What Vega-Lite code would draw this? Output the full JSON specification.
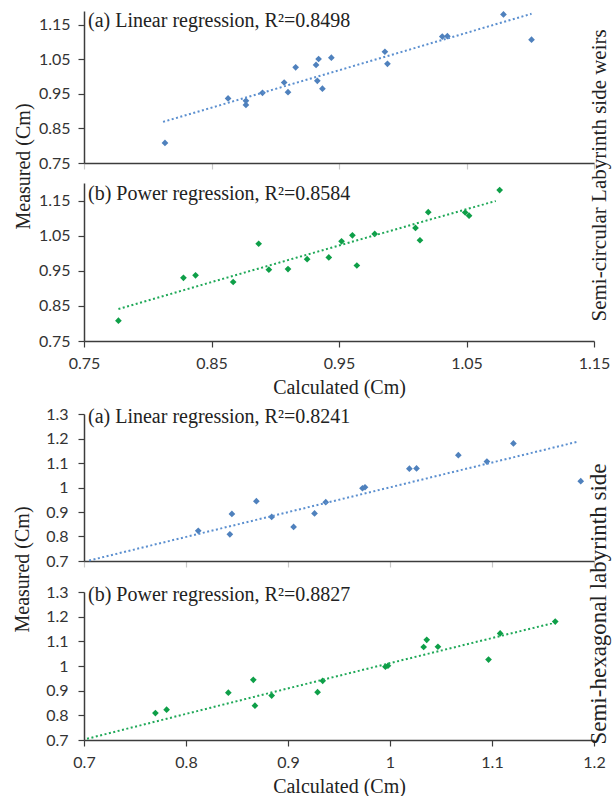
{
  "$schema": "https://vega.github.io/schema/vega-lite/v6.json",
  "padding": {"left": 12, "top": 9, "right": 0, "bottom": 0},
  "background": "white",
  "config": {
    "view": {"stroke": null},
    "axis": {"domainColor": "#3c3c3c", "domainWidth": 1.5, "tickColor": "#3c3c3c", "tickWidth": 1.2, "tickSize": 6, "tickCount": 12, "labelFont": "Lato", "labelFontSize": 16, "labelColor": "#333", "labelPadding": 10, "labelOverlap": false, "labelFlush": false, "titleFont": "Liberation Serif", "titleFontSize": 20, "titleFontWeight": "normal", "titleColor": "#222", "titlePadding": 5, "grid": false},
    "axisX": {"labelPadding": 8, "titlePadding": 6},
    "title": {"font": "Liberation Serif", "fontSize": 20, "fontWeight": "normal", "color": "#222"}
  },
  "datasets": {
    "circular": [
      {"Measured": 0.808, "Linear": 0.8135, "Power": 0.777},
      {"Measured": 0.918, "Linear": 0.877, "Power": 0.867},
      {"Measured": 0.930, "Linear": 0.877, "Power": 0.828},
      {"Measured": 0.937, "Linear": 0.863, "Power": 0.8375},
      {"Measured": 0.953, "Linear": 0.890, "Power": 0.895},
      {"Measured": 0.955, "Linear": 0.910, "Power": 0.910},
      {"Measured": 0.965, "Linear": 0.937, "Power": 0.964},
      {"Measured": 0.983, "Linear": 0.907, "Power": 0.925},
      {"Measured": 0.988, "Linear": 0.933, "Power": 0.942},
      {"Measured": 1.027, "Linear": 0.916, "Power": 0.887},
      {"Measured": 1.034, "Linear": 0.932, "Power": 0.952},
      {"Measured": 1.037, "Linear": 0.988, "Power": 1.0135},
      {"Measured": 1.051, "Linear": 0.934, "Power": 0.9605},
      {"Measured": 1.055, "Linear": 0.944, "Power": 0.978},
      {"Measured": 1.072, "Linear": 0.986, "Power": 1.010},
      {"Measured": 1.107, "Linear": 1.101, "Power": 1.052},
      {"Measured": 1.116, "Linear": 1.031, "Power": 1.049},
      {"Measured": 1.117, "Linear": 1.035, "Power": 1.020},
      {"Measured": 1.180, "Linear": 1.079, "Power": 1.076}
    ],
    "circularTrend": [
      {"Fit": "Linear", "Calculated": 0.812, "Measured": 0.869},
      {"Fit": "Linear", "Calculated": 1.101, "Measured": 1.182},
      {"Fit": "Power", "Calculated": 0.777, "Measured": 0.841},
      {"Fit": "Power", "Calculated": 0.925, "Measured": 0.996},
      {"Fit": "Power", "Calculated": 1.073, "Measured": 1.149}
    ],
    "hexagonal": [
      {"Measured": 0.809, "Linear": 0.843, "Power": 0.770},
      {"Measured": 0.823, "Linear": 0.812, "Power": 0.781},
      {"Measured": 0.839, "Linear": 0.9055, "Power": 0.8676},
      {"Measured": 0.880, "Linear": 0.884, "Power": 0.884},
      {"Measured": 0.892, "Linear": 0.845, "Power": 0.8415},
      {"Measured": 0.894, "Linear": 0.926, "Power": 0.929},
      {"Measured": 0.940, "Linear": 0.937, "Power": 0.934},
      {"Measured": 0.944, "Linear": 0.869, "Power": 0.866},
      {"Measured": 0.997, "Linear": 0.973, "Power": 0.9955},
      {"Measured": 1.001, "Linear": 0.9755, "Power": 0.998},
      {"Measured": 1.026, "Linear": 1.187, "Power": 1.0966},
      {"Measured": 1.077, "Linear": 1.019, "Power": 1.033},
      {"Measured": 1.078, "Linear": 1.026, "Power": 1.047},
      {"Measured": 1.106, "Linear": 1.095, "Power": 1.036},
      {"Measured": 1.132, "Linear": 1.067, "Power": 1.108},
      {"Measured": 1.180, "Linear": 1.121, "Power": 1.162}
    ],
    "hexagonalTrend": [
      {"Fit": "Linear", "Calculated": 0.705, "Measured": 0.702},
      {"Fit": "Linear", "Calculated": 1.185, "Measured": 1.188},
      {"Fit": "Power", "Calculated": 0.703, "Measured": 0.705},
      {"Fit": "Power", "Calculated": 0.93, "Measured": 0.94},
      {"Fit": "Power", "Calculated": 1.161, "Measured": 1.175}
    ]
  },
  "spacing": 9,
  "align": "none",
  "vconcat": [
    {
      "title": {"text": "Semi-circular Labyrinth side weirs", "orient": "right", "anchor": "middle", "angle": -90, "baseline": "middle", "offset": -31, "dx": 28, "fontSize": 21},
      "bounds": "flush",
      "spacing": 20,
      "vconcat": [
        {
          "width": 510, "height": 152,
          "title": {"text": "(a) Linear regression, R²=0.8498", "anchor": "start", "frame": "group", "offset": -21, "dx": 4},
          "layer": [
            {
              "data": {"name": "circular"},
              "mark": {"type": "point", "shape": "diamond", "filled": true, "color": "#4F81BD", "size": 45, "opacity": 1},
              "encoding": {
                "x": {"field": "Linear", "type": "quantitative", "scale": {"domain": [0.75, 1.15], "nice": false, "zero": false}, "axis": {"values": [0.75, 0.85, 0.95, 1.05, 1.15], "labels": false, "tickColor": "#c8c8c8", "title": null}},
                "y": {"field": "Measured", "type": "quantitative", "scale": {"domain": [0.75, 1.19], "nice": false, "zero": false}, "axis": {"values": [0.75, 0.85, 0.95, 1.05, 1.15], "tickCount": 12, "labelOverlap": false, "labelPadding": 8, "format": ".2f", "title": "Measured (Cm)", "titleY": 155, "titlePadding": 5}}
              }
            },
            {
              "data": {"name": "circularTrend"},
              "transform": [{"filter": "datum.Fit === 'Linear'"}],
              "mark": {"type": "line", "color": "#5b8fcf", "strokeWidth": 2, "strokeDash": [2, 2.5]},
              "encoding": {
                "x": {"field": "Calculated", "type": "quantitative"},
                "y": {"field": "Measured", "type": "quantitative"}
              }
            }
          ]
        },
        {
          "width": 510, "height": 158,
          "title": {"text": "(b) Power regression, R²=0.8584", "anchor": "start", "frame": "group", "offset": -21, "dx": 4},
          "layer": [
            {
              "data": {"name": "circular"},
              "mark": {"type": "point", "shape": "diamond", "filled": true, "color": "#0E9F48", "size": 45, "opacity": 1},
              "encoding": {
                "x": {"field": "Power", "type": "quantitative", "scale": {"domain": [0.75, 1.15], "nice": false, "zero": false}, "axis": {"values": [0.75, 0.85, 0.95, 1.05, 1.15], "format": ".2f", "title": "Calculated (Cm)"}},
                "y": {"field": "Measured", "type": "quantitative", "scale": {"domain": [0.75, 1.2], "nice": false, "zero": false}, "axis": {"values": [0.75, 0.85, 0.95, 1.05, 1.15], "tickCount": 12, "labelOverlap": false, "labelPadding": 8, "format": ".2f", "title": null}}
              }
            },
            {
              "data": {"name": "circularTrend"},
              "transform": [{"filter": "datum.Fit === 'Power'"}],
              "mark": {"type": "line", "color": "#1fa858", "strokeWidth": 2, "strokeDash": [2, 2.5], "interpolate": "monotone"},
              "encoding": {
                "x": {"field": "Calculated", "type": "quantitative"},
                "y": {"field": "Measured", "type": "quantitative"}
              }
            }
          ]
        }
      ]
    },
    {
      "title": {"text": "Semi-hexagonal labyrinth side", "orient": "right", "anchor": "middle", "angle": -90, "baseline": "middle", "offset": -29, "dx": -3, "fontSize": 23},
      "bounds": "flush",
      "spacing": 31,
      "vconcat": [
        {
          "width": 510, "height": 147,
          "title": {"text": "(a) Linear regression, R²=0.8241", "anchor": "start", "frame": "group", "offset": -21, "dx": 4},
          "layer": [
            {
              "data": {"name": "hexagonal"},
              "mark": {"type": "point", "shape": "diamond", "filled": true, "color": "#4F81BD", "size": 45, "opacity": 1},
              "encoding": {
                "x": {"field": "Linear", "type": "quantitative", "scale": {"domain": [0.7, 1.2], "nice": false, "zero": false}, "axis": {"values": [0.7, 0.8, 0.9, 1, 1.1, 1.2], "labels": false, "tickColor": "#c8c8c8", "title": null}},
                "y": {"field": "Measured", "type": "quantitative", "scale": {"domain": [0.7, 1.3], "nice": false, "zero": false}, "axis": {"values": [0.7, 0.8, 0.9, 1, 1.1, 1.2, 1.3], "tickCount": 12, "labelOverlap": false, "labelPadding": 10, "format": "~g", "title": "Measured (Cm)", "titleY": 155, "titlePadding": 13}}
              }
            },
            {
              "data": {"name": "hexagonalTrend"},
              "transform": [{"filter": "datum.Fit === 'Linear'"}],
              "mark": {"type": "line", "color": "#5b8fcf", "strokeWidth": 2, "strokeDash": [2, 2.5]},
              "encoding": {
                "x": {"field": "Calculated", "type": "quantitative"},
                "y": {"field": "Measured", "type": "quantitative"}
              }
            }
          ]
        },
        {
          "width": 510, "height": 148,
          "title": {"text": "(b) Power regression, R²=0.8827", "anchor": "start", "frame": "group", "offset": -21, "dx": 4},
          "layer": [
            {
              "data": {"name": "hexagonal"},
              "mark": {"type": "point", "shape": "diamond", "filled": true, "color": "#0E9F48", "size": 45, "opacity": 1},
              "encoding": {
                "x": {"field": "Power", "type": "quantitative", "scale": {"domain": [0.7, 1.2], "nice": false, "zero": false}, "axis": {"values": [0.7, 0.8, 0.9, 1, 1.1, 1.2], "format": "~g", "title": "Calculated (Cm)", "titlePadding": 6}},
                "y": {"field": "Measured", "type": "quantitative", "scale": {"domain": [0.7, 1.3], "nice": false, "zero": false}, "axis": {"values": [0.7, 0.8, 0.9, 1, 1.1, 1.2, 1.3], "tickCount": 12, "labelOverlap": false, "labelPadding": 10, "format": "~g", "title": null}}
              }
            },
            {
              "data": {"name": "hexagonalTrend"},
              "transform": [{"filter": "datum.Fit === 'Power'"}],
              "mark": {"type": "line", "color": "#1fa858", "strokeWidth": 2, "strokeDash": [2, 2.5], "interpolate": "monotone"},
              "encoding": {
                "x": {"field": "Calculated", "type": "quantitative"},
                "y": {"field": "Measured", "type": "quantitative"}
              }
            }
          ]
        }
      ]
    }
  ]
}
